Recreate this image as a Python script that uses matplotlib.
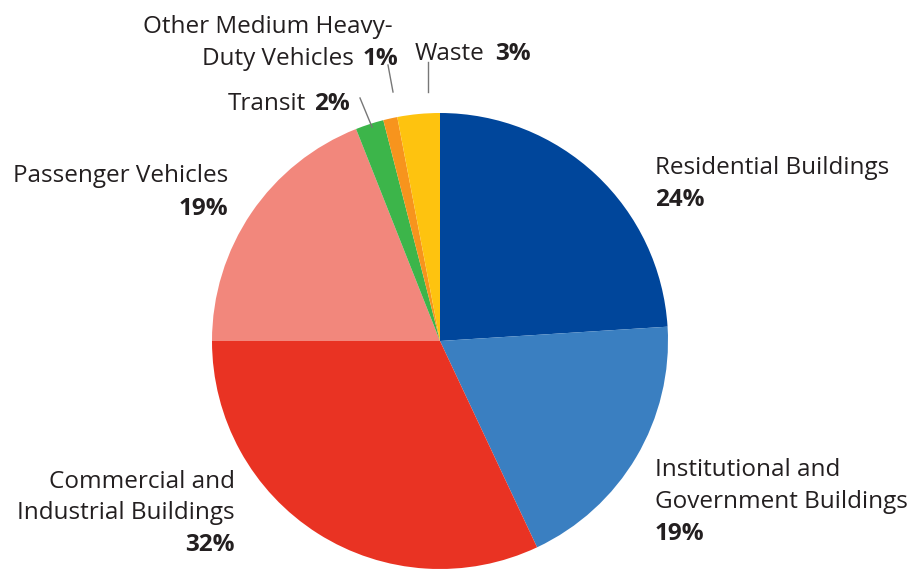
import matplotlib
matplotlib.use('Agg')
import matplotlib.pyplot as plt

# Emissions share by sector, clockwise from 12 o'clock
sectors = ['Residential Buildings', 'Institutional and\nGovernment Buildings',
           'Commercial and\nIndustrial Buildings', 'Passenger Vehicles',
           'Transit', 'Other Medium Heavy-\nDuty Vehicles', 'Waste']
shares = [24, 19, 32, 19, 2, 1, 3]
colors = ['#00469b', '#3a7fc1', '#e93323', '#f2877c', '#3cb54a', '#f7941d', '#fec30f']

W, H = 911, 570
TXT = '#231f20'
FS = 17.5
FONT = 'Open Sans'
DY = 2  # small baseline nudge for the labels

fig = plt.figure(figsize=(W / 100, H / 100), dpi=100)
ax = fig.add_axes([0, 0, 1, 1])

ax.pie(shares, colors=colors, startangle=90, counterclock=False,
       center=(440, H - 341), radius=228, frame=True,
       wedgeprops=dict(linewidth=0))
ax.set_xlim(0, W)
ax.set_ylim(0, H)
ax.set_aspect('auto')
ax.axis('off')

renderer = fig.canvas.get_renderer()
inv = ax.transData.inverted()


def py(y):
    return H - y


def text(x, y, s, ha='left', bold=False):
    return ax.text(x, py(y + DY), s, ha=ha, va='center', fontsize=FS, color=TXT,
                   family=FONT, fontweight='bold' if bold else 'normal')


def inline(x, y, name, pct, ha='left', gap=8):
    # name in regular weight with the percentage in bold on the same line
    if ha == 'left':
        t = text(x, y, name)
        bb = t.get_window_extent(renderer)
        x1 = inv.transform((bb.x1, 0))[0]
        text(x1 + gap, y, pct, bold=True)
    else:
        p = text(x, y, pct, ha='right', bold=True)
        bb = p.get_window_extent(renderer)
        x0 = inv.transform((bb.x0, 0))[0]
        text(x0 - gap, y, name, ha='right')


def pct_label(i):
    return f'{shares[i]}%'


# Residential
text(655, 166, sectors[0])
text(655, 198, pct_label(0), bold=True)

# Institutional
name1, name2 = sectors[1].split('\n')
text(655, 468, name1)
text(655, 500, name2)
text(655, 532, pct_label(1), bold=True)

# Commercial
name1, name2 = sectors[2].split('\n')
text(235, 480, name1, ha='right')
text(235, 511, name2, ha='right')
text(235, 543, pct_label(2), ha='right', bold=True)

# Passenger vehicles
text(228, 174, sectors[3], ha='right')
text(228, 207, pct_label(3), ha='right', bold=True)

# Small slices with leader lines
inline(350, 102, sectors[4], pct_label(4), ha='right')
name1, name2 = sectors[5].split('\n')
text(393, 25, name1, ha='right')
inline(398, 57, name2, pct_label(5), ha='right')
inline(415, 52, sectors[6], pct_label(6), ha='left', gap=10)

line_kw = dict(color='#777777', linewidth=1)
ax.plot([360, 372], [py(98), py(127)], **line_kw)
ax.plot([388, 393], [py(65), py(92)], **line_kw)
ax.plot([428, 428], [py(62), py(92)], **line_kw)

fig.savefig('out.png', dpi=100, facecolor='white')
